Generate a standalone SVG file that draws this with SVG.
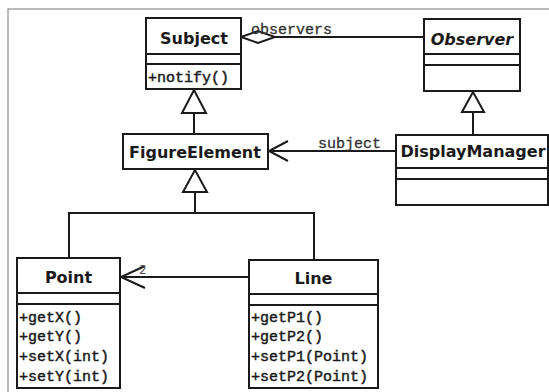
<svg xmlns="http://www.w3.org/2000/svg" width="549" height="392" viewBox="0 0 549 392">
<style>
.box{fill:#fff;stroke:#1a1a1a;stroke-width:2}
.sep{stroke:#1a1a1a;stroke-width:2}
.name{font-family:"DejaVu Sans",sans-serif;font-weight:bold;font-size:16px;fill:#1a1a1a;text-anchor:middle}
.it{font-style:italic}
.op{font-family:"Liberation Mono",monospace;font-size:15px;fill:#1a1a1a;stroke:#1a1a1a;stroke-width:0.45}
.edge{fill:none;stroke:#1a1a1a;stroke-width:2}
.gen{fill:#fff;stroke:#1a1a1a;stroke-width:2}
.lbl{font-family:"Liberation Mono",monospace;font-size:15px;fill:#333;stroke:#333;stroke-width:0.3}
</style>
<rect width="549" height="392" fill="#fff"/>
<rect x="8" y="9" width="560" height="400" fill="none" stroke="#777" stroke-width="1"/>

<g id="connectors">
  <!-- observers aggregation -->
  <line class="edge" x1="275" y1="37" x2="424" y2="37"/>
  <polygon class="gen" points="241,37 258,31 275,37 258,43"/>
  <text class="lbl" x="251" y="34">observers</text>
  <!-- Subject <- FigureElement generalization -->
  <line class="edge" x1="194" y1="113" x2="194" y2="134"/>
  <polygon class="gen" points="194,90 182,113 206,113"/>
  <!-- Observer <- DisplayManager generalization -->
  <line class="edge" x1="473" y1="112" x2="473" y2="135"/>
  <polygon class="gen" points="473,92 462,112 484,112"/>
  <!-- subject association -->
  <line class="edge" x1="269" y1="151" x2="396" y2="151"/>
  <polyline class="edge" points="288,141 269,151 288,161"/>
  <text class="lbl" x="318" y="148">subject</text>
  <!-- FigureElement generalization tree -->
  <polygon class="gen" points="195,170 183,192 207,192"/>
  <polyline class="edge" points="195,192 195,213"/>
  <polyline class="edge" points="69,258 69,213 314,213 314,260"/>
  <!-- Line -> Point association -->
  <line class="edge" x1="121" y1="277" x2="249" y2="277"/>
  <polyline class="edge" points="145,266 121,277 145,288"/>
  <text x="139" y="274" font-family="DejaVu Sans, sans-serif" font-size="12" fill="#555">2</text>
</g>

<g id="Subject">
  <rect class="box" x="146" y="18" width="95" height="71"/>
  <line class="sep" x1="146" y1="54" x2="241" y2="54"/>
  <line class="sep" x1="146" y1="64" x2="241" y2="64"/>
  <text class="name" x="194" y="44">Subject</text>
  <text class="op" x="148" y="82">+notify()</text>
</g>

<g id="Observer">
  <rect class="box" x="424" y="19" width="96" height="72"/>
  <line class="sep" x1="424" y1="54" x2="520" y2="54"/>
  <line class="sep" x1="424" y1="65" x2="520" y2="65"/>
  <text class="name it" x="472" y="45">Observer</text>
</g>

<g id="FigureElement">
  <rect class="box" x="123" y="134" width="145" height="35"/>
  <text class="name" x="195" y="158">FigureElement</text>
</g>

<g id="DisplayManager">
  <rect class="box" x="396" y="135" width="152" height="70"/>
  <line class="sep" x1="396" y1="168" x2="548" y2="168"/>
  <line class="sep" x1="396" y1="179" x2="548" y2="179"/>
  <text class="name" x="473" y="157">DisplayManager</text>
</g>

<g id="Point">
  <rect class="box" x="17" y="258" width="103" height="130"/>
  <line class="sep" x1="17" y1="293" x2="120" y2="293"/>
  <line class="sep" x1="17" y1="304" x2="120" y2="304"/>
  <text class="name" x="68.5" y="283">Point</text>
  <text class="op" x="19" y="322">+getX()</text>
  <text class="op" x="19" y="341">+getY()</text>
  <text class="op" x="19" y="361">+setX(int)</text>
  <text class="op" x="19" y="381">+setY(int)</text>
</g>

<g id="Line">
  <rect class="box" x="249" y="260" width="129" height="128"/>
  <line class="sep" x1="249" y1="294" x2="378" y2="294"/>
  <line class="sep" x1="249" y1="305" x2="378" y2="305"/>
  <text class="name" x="313.5" y="284">Line</text>
  <text class="op" x="251" y="322">+getP1()</text>
  <text class="op" x="251" y="341">+getP2()</text>
  <text class="op" x="251" y="361">+setP1(Point)</text>
  <text class="op" x="251" y="381">+setP2(Point)</text>
</g>
</svg>
